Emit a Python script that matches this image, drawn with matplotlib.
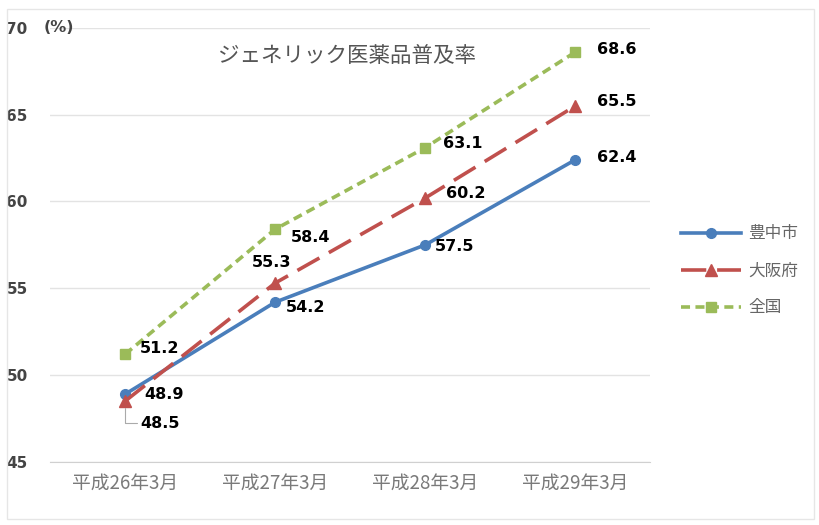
import matplotlib
matplotlib.use("Agg")
import matplotlib.pyplot as plt
from matplotlib.patches import Rectangle

plt.rcParams["font.family"] = ["Noto Sans CJK JP", "DejaVu Sans"]

periods = ["平成26年3月", "平成27年3月", "平成28年3月", "平成29年3月"]
toyonaka = [48.9, 54.2, 57.5, 62.4]
osaka = [48.5, 55.3, 60.2, 65.5]
national = [51.2, 58.4, 63.1, 68.6]
series_names = ["豊中市", "大阪府", "全国"]
y_ticks = [45, 50, 55, 60, 65, 70]

BLUE = "#4a7ebb"
RED = "#c0504d"
GREEN = "#9bbb59"

# label offsets in points (dx, dy) per series and period
off_toyonaka = [(14, 0), (8, -4), (7, -1), (16, 2)]
off_osaka = [(11, -16), (-17, 15), (15, 3), (16, 3)]
off_national = [(11, 4), (11, -6), (13, 3), (16, 2)]

fig = plt.figure(figsize=(8.19, 5.25), dpi=100)
fig.patches.append(Rectangle((0.009, 0.012), 0.985, 0.97, transform=fig.transFigure,
                             fill=False, edgecolor="#e6e6e6", lw=1.0))
ax = fig.add_axes([0.061, 0.12, 0.733, 0.827])

x = list(range(len(periods)))
ax.plot(x, toyonaka, color=BLUE, lw=2.6, marker="o", markersize=7,
        label=series_names[0], zorder=3)
ax.plot(x, osaka, color=RED, lw=2.6, dashes=(7, 3), marker="^", markersize=8,
        label=series_names[1], zorder=3)
ax.plot(x, national, color=GREEN, lw=2.6, dashes=(2.5, 1.5), marker="s", markersize=7,
        label=series_names[2], zorder=3)

for vals, offs in ((toyonaka, off_toyonaka), (osaka, off_osaka), (national, off_national)):
    for xi, v, (dx, dy) in zip(x, vals, offs):
        ax.annotate(f"{v:.1f}", (xi, v), xytext=(dx, dy), textcoords="offset points",
                    ha="left", va="center", fontsize=11.5, fontweight="bold",
                    family="DejaVu Sans", color="black", zorder=4)

# leader line for the lowest label
ax.annotate("", xy=(0, osaka[0]), xytext=(9, -16), textcoords="offset points",
            xycoords="data",
            arrowprops=dict(arrowstyle="-", color="#aaaaaa", lw=0.8, shrinkA=0, shrinkB=5,
                            connectionstyle="angle,angleA=0,angleB=90,rad=0"))

ax.set_xlim(-0.5, 3.5)
ax.set_ylim(45, 70)
ax.set_yticks(y_ticks)
ax.set_xticks(x)
ax.set_xticklabels(periods, fontsize=13.5, color="#7a7a7a")
ax.tick_params(axis="y", labelsize=11, labelcolor="#444444", length=0, pad=16)
for lbl in ax.get_yticklabels():
    lbl.set_fontweight("bold")
    lbl.set_family("DejaVu Sans")
ax.tick_params(axis="x", length=0, pad=8)
ax.grid(axis="y", color="#e3e3e3", lw=1)
ax.set_axisbelow(True)
for s in ("top", "right", "left"):
    ax.spines[s].set_visible(False)
ax.spines["bottom"].set_color("#d0d0d0")

ax.text(-0.54, 70, "(%)", fontsize=11.5, fontweight="bold", color="#444444",
        family="DejaVu Sans", va="center", ha="left")
ax.text(1.48, 68.4, "ジェネリック医薬品普及率", fontsize=15.5, color="#555555",
        ha="center", va="center")

ax.legend(loc="center left", bbox_to_anchor=(1.027, 0.44), frameon=False,
          fontsize=12, handlelength=3.6, handletextpad=0.4, labelspacing=1.2,
          labelcolor="#666666")

fig.savefig("out.png", dpi=100)
